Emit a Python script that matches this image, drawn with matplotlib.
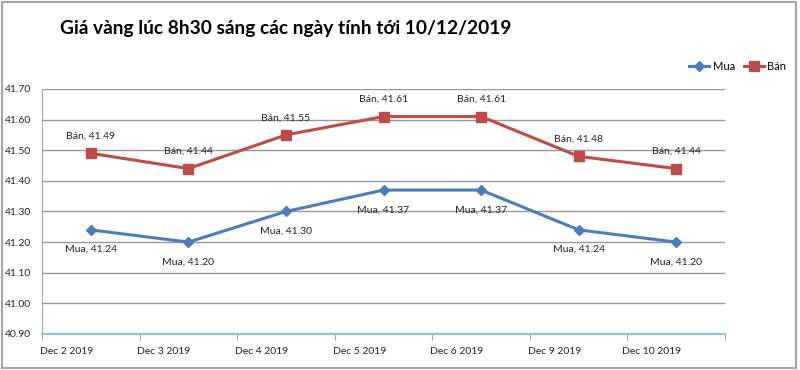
import matplotlib.pyplot as plt
from matplotlib.patches import Rectangle
import numpy as np

plt.rcParams['font.family'] = ['Lato', 'DejaVu Sans']

dates = ["Dec 2 2019", "Dec 3 2019", "Dec 4 2019", "Dec 5 2019",
         "Dec 6 2019", "Dec 9 2019", "Dec 10 2019"]
mua = [41.24, 41.20, 41.30, 41.37, 41.37, 41.24, 41.20]
ban = [41.49, 41.44, 41.55, 41.61, 41.61, 41.48, 41.44]
yticks = [40.90, 41.00, 41.10, 41.20, 41.30, 41.40, 41.50, 41.60, 41.70]

blue = "#4a7ebb"
red = "#be4b48"

fig = plt.figure(figsize=(8, 3.7), dpi=100)
fig.patches.append(Rectangle((0.003, 0.005), 0.992, 0.99, transform=fig.transFigure,
                             fill=False, edgecolor="#a6a6a6", linewidth=1.5))
ax = fig.add_axes([0.0525, 0.0973, 0.8538, 0.6622])

x = np.arange(len(dates))
ax.plot(x, mua, color=blue, lw=2.2, marker="D", markersize=5, label="Mua")
ax.plot(x, ban, color=red, lw=2.2, marker="s", markersize=7, label="Bán")

for i in x:
    ax.annotate(f"Mua, {mua[i]:.2f}", (i, mua[i]), xytext=(0, -11), textcoords="offset points",
                ha="center", va="top", fontsize=7.5, color="#222222")
    ax.annotate(f"Bán, {ban[i]:.2f}", (i, ban[i]), xytext=(0, 9), textcoords="offset points",
                ha="center", va="bottom", fontsize=7.5, color="#222222")

ax.set_xlim(-0.5, len(dates) - 0.5)
ax.set_ylim(40.90, 41.70)
ax.set_yticks(yticks)
ax.set_yticklabels([f"{v:.2f}" for v in yticks], fontsize=7.5, color="#222222")
ax.tick_params(axis="y", length=0, pad=8)

ax.set_xticks(np.arange(len(dates) + 1) - 0.5)
ax.set_xticklabels([])
ax.tick_params(axis="x", length=4, color="#a6a6a6")
for i, d in enumerate(dates):
    ax.text(i - 0.25, -0.055, d, transform=ax.get_xaxis_transform(), ha="center", va="top",
            fontsize=7.5, color="#222222")

ax.yaxis.grid(True, color="#989898", lw=1)
ax.set_axisbelow(True)
for s in ["top", "right"]:
    ax.spines[s].set_visible(False)
ax.spines["left"].set_color("#a6a6a6")
ax.spines["bottom"].set_color("#6cc5c5")
ax.spines["bottom"].set_linewidth(1.2)

fig.text(0.075, 0.922, "Giá vàng lúc 8h30 sáng các ngày tính tới 10/12/2019",
         fontsize=13.8, fontweight="bold", ha="left", va="center")
fig.legend(loc="center right", bbox_to_anchor=(0.995, 0.82), ncol=2, frameon=False,
           fontsize=8, handlelength=1.8, columnspacing=0.8, handletextpad=0.3)

fig.savefig("out.png", dpi=100)
